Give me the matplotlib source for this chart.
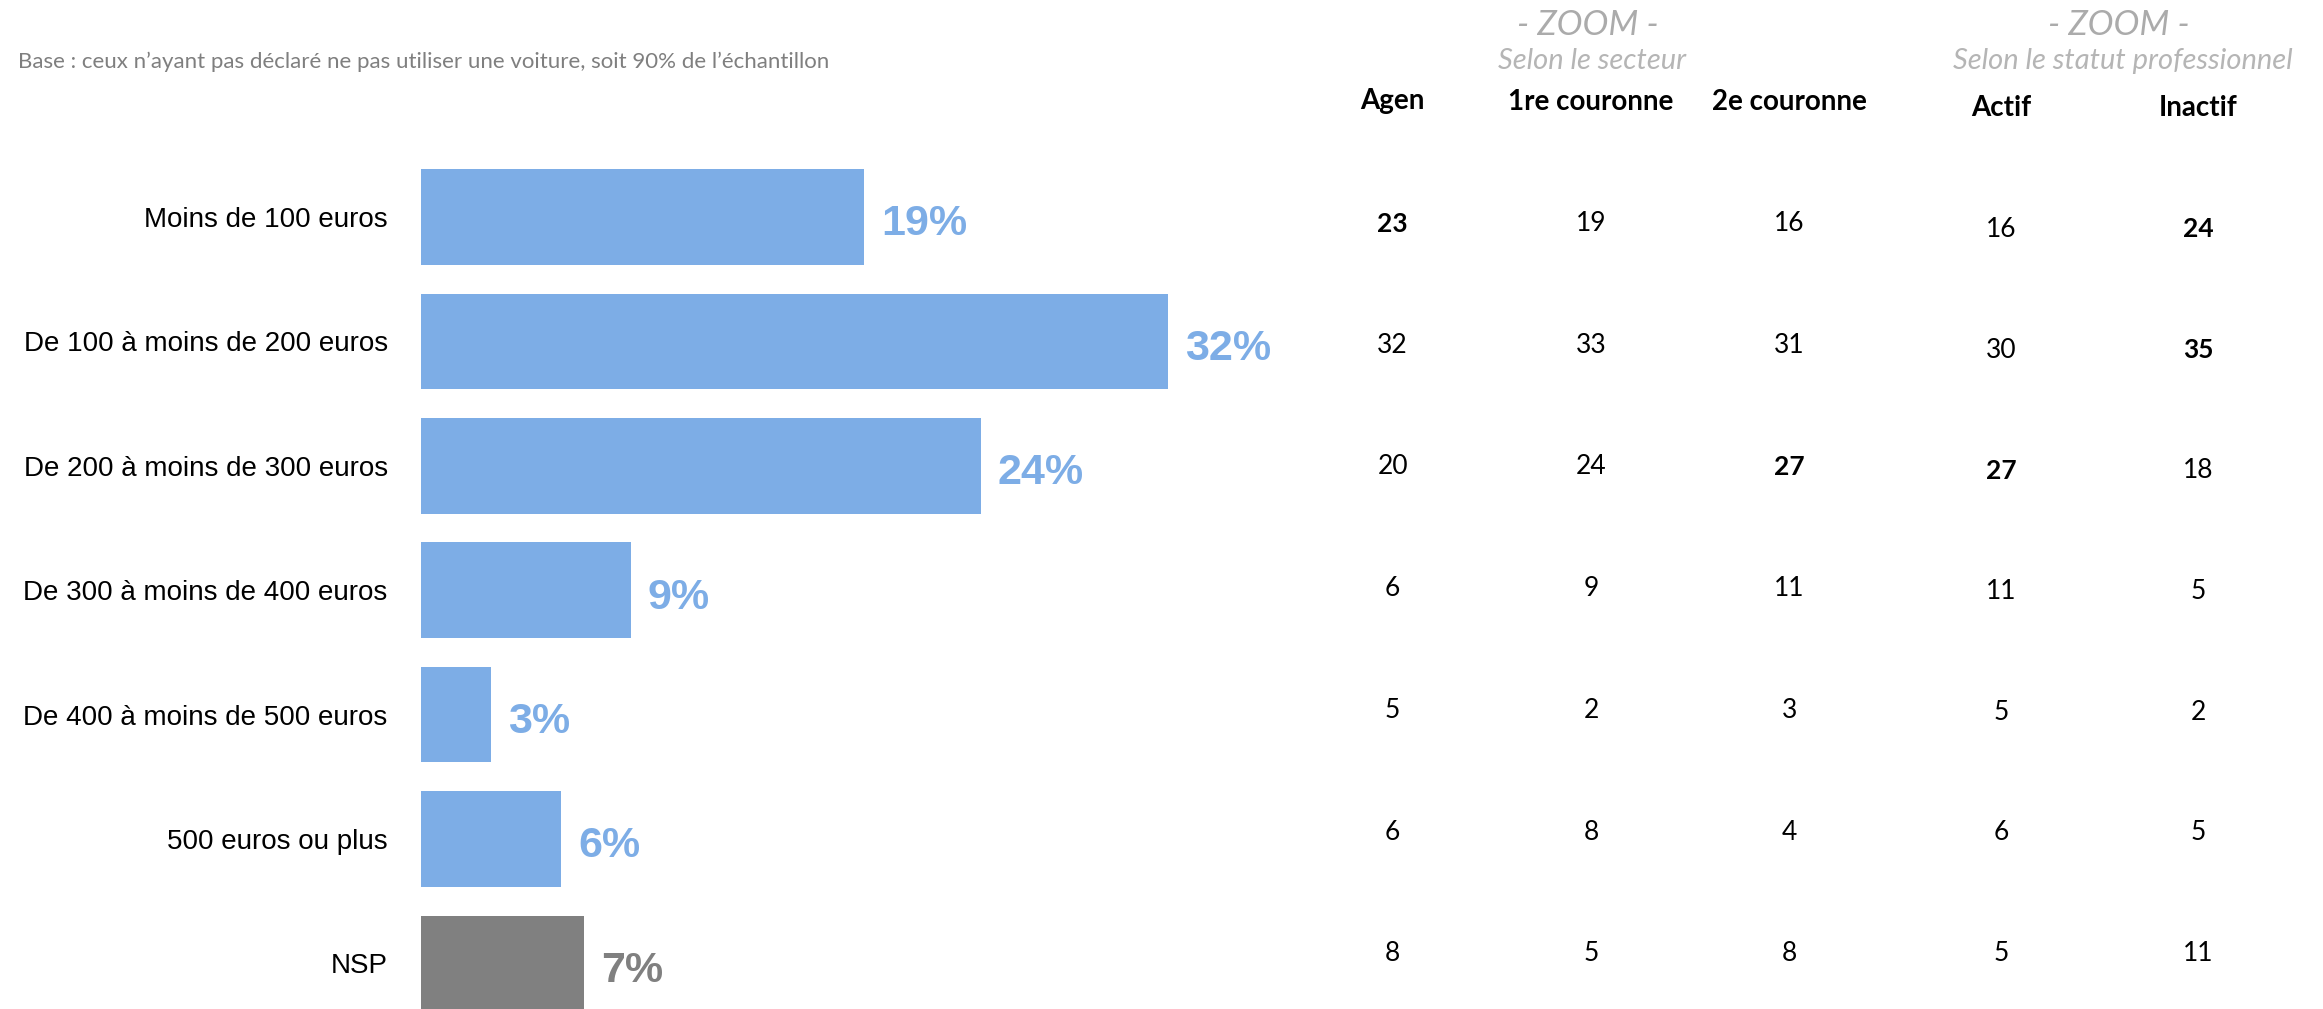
import matplotlib
matplotlib.use('Agg')
import matplotlib.pyplot as plt

# réponses : budget mensuel consacré à la voiture
categories = ['Moins de 100 euros', 'De 100 à moins de 200 euros', 'De 200 à moins de 300 euros',
              'De 300 à moins de 400 euros', 'De 400 à moins de 500 euros', '500 euros ou plus', 'NSP']
values = [19, 32, 24, 9, 3, 6, 7]

# zoom par secteur et statut professionnel
columns = ['Agen', '1re couronne', '2e couronne', 'Actif', 'Inactif']
agen = [23, 32, 20, 6, 5, 6, 8]
couronne1 = [19, 33, 24, 9, 2, 8, 5]
couronne2 = [16, 31, 27, 11, 3, 4, 8]
actif = [16, 30, 27, 11, 5, 6, 5]
inactif = [24, 35, 18, 5, 2, 5, 11]
# cellules en gras (colonne, ligne)
bold_cells = [(0, 0), (4, 0), (4, 1), (2, 2), (3, 2)]

W, H = 2323, 1009
BLUE = '#7DADE6'
GREY = '#808080'
TABLE_FONT = ['Lato', 'DejaVu Sans']

fig = plt.figure(figsize=(W / 100, H / 100), dpi=100)


def px(x, y):
    return x / W, 1 - y / H


# --- barres ---
ax_left, ax_right, ax_top = 421, 1300, 150
ax = fig.add_axes([ax_left / W, 0, (ax_right - ax_left) / W, (H - ax_top) / H])
pitch = 124.4
first_center = 217
px_per_pct = 23.33
y_top = -(first_center - ax_top) / pitch
y_bot = (len(values) - 1) + (H - (first_center + pitch * (len(values) - 1))) / pitch
ax.set_ylim(y_bot, y_top)
ax.set_xlim(0, (ax_right - ax_left) / px_per_pct)

colors = [BLUE] * (len(values) - 1) + [GREY]
ypos = list(range(len(values)))
ax.barh(ypos, values, height=0.77, color=colors)
for y, v, c in zip(ypos, values, colors):
    ax.text(v + 17 / px_per_pct, y + 0.06, f'{v}%', va='center', ha='left',
            fontsize=31, fontweight='bold', color=c, family='Liberation Sans')
ax.set_yticks(ypos)
ax.set_yticklabels(categories, fontsize=20, family='Liberation Sans')
ax.tick_params(axis='y', length=0, pad=24)
ax.set_xticks([])
for s in ax.spines.values():
    s.set_visible(False)

# --- texte d'en-tête ---
fig.text(*px(18, 62), 'Base : ceux n’ayant pas déclaré ne pas utiliser une voiture, soit 90% de l’échantillon',
         fontsize=16, color='#7F7F7F', va='center', ha='left', family=TABLE_FONT)

for cx, sub in [(1588, 'Selon le secteur'), (2119, 'Selon le statut professionnel')]:
    fig.text(*px(cx, 25), '- ZOOM -', fontsize=25, color='#ABABAB', ha='center', va='center',
             fontweight='normal', fontstyle='italic', family=TABLE_FONT)
    fig.text(*px(cx + 4, 61), sub, fontsize=21, color='#B5B5B5', ha='center', va='center',
             fontweight='normal', fontstyle='italic', family=TABLE_FONT)

# --- tableau ---
col_x = [1392.6, 1591, 1789.6, 2001.5, 2198.5]
header_y = [101.5, 101.5, 101.5, 107.5, 107.5]
row_start = [223.5, 223.5, 223.5, 229.5, 229.5]
row_pitch = [121.7, 121.7, 121.7, 120.7, 120.7]
series = [agen, couronne1, couronne2, actif, inactif]

for j, (name, data) in enumerate(zip(columns, series)):
    fig.text(*px(col_x[j], header_y[j]), name, fontsize=20, fontweight='bold', color='black',
             ha='center', va='center', family=TABLE_FONT)
    for i, v in enumerate(data):
        w = 'bold' if (j, i) in bold_cells else 'normal'
        fig.text(*px(col_x[j], row_start[j] + i * row_pitch[j]), str(v), fontsize=19, fontweight=w,
                 color='black', ha='center', va='center', family=TABLE_FONT)

fig.savefig('out.png', dpi=100)
